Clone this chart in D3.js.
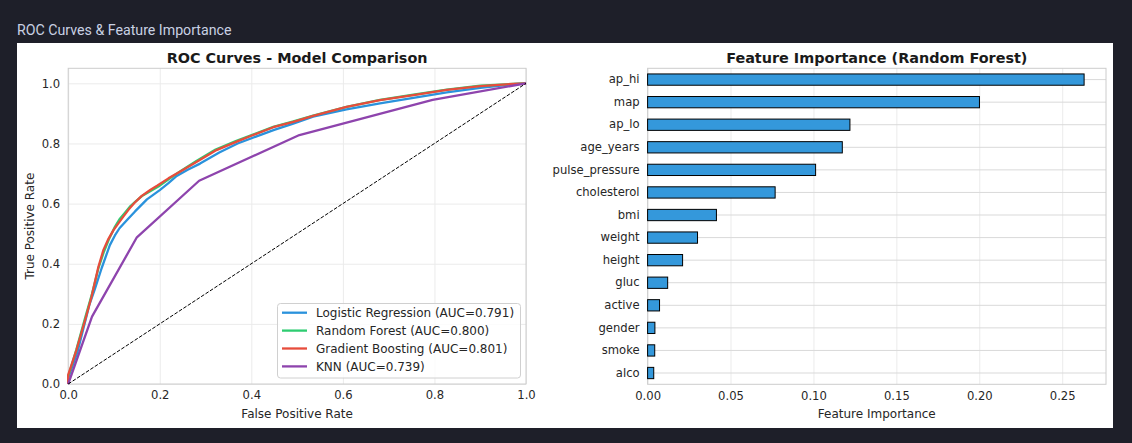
<!DOCTYPE html>
<html>
<head>
<meta charset="utf-8">
<script src="https://cdn.jsdelivr.net/npm/d3@7"></script>
<style>
  html, body { margin: 0; padding: 0; background: #1e1f29; }
  svg { display: block; }
  text { font-family: "DejaVu Sans", sans-serif; }
</style>
</head>
<body>
<svg id="chart" width="1132" height="443"></svg>
<script>
// ---------- DATA ----------
const lrFpr = [0, 0, 0.02, 0.046, 0.058, 0.073, 0.091, 0.102, 0.112, 0.130, 0.146, 0.172, 0.200, 0.219, 0.237, 0.260, 0.288, 0.330, 0.370, 0.410, 0.450, 0.490, 0.535, 0.608, 0.681, 0.754, 0.827, 0.900, 0.972, 1.0];
const lrTpr = [0, 0.02, 0.105, 0.262, 0.315, 0.385, 0.462, 0.494, 0.518, 0.548, 0.574, 0.614, 0.645, 0.668, 0.692, 0.712, 0.733, 0.770, 0.800, 0.823, 0.845, 0.865, 0.889, 0.913, 0.933, 0.952, 0.970, 0.985, 0.997, 1.0];

const rfFpr = [0, 0, 0.018, 0.037, 0.052, 0.066, 0.078, 0.090, 0.101, 0.112, 0.124, 0.136, 0.148, 0.163, 0.180, 0.197, 0.220, 0.245, 0.280, 0.322, 0.366, 0.405, 0.448, 0.490, 0.535, 0.608, 0.681, 0.754, 0.827, 0.900, 0.972, 1.0];
const rfTpr = [0, 0.025, 0.115, 0.220, 0.300, 0.385, 0.440, 0.485, 0.520, 0.548, 0.570, 0.592, 0.608, 0.627, 0.642, 0.657, 0.682, 0.708, 0.742, 0.780, 0.808, 0.830, 0.855, 0.873, 0.893, 0.922, 0.945, 0.962, 0.979, 0.992, 0.998, 1.0];

const gbFpr = [0, 0, 0.018, 0.037, 0.051, 0.066, 0.077, 0.087, 0.099, 0.110, 0.120, 0.132, 0.144, 0.160, 0.179, 0.195, 0.219, 0.244, 0.281, 0.324, 0.368, 0.404, 0.448, 0.492, 0.535, 0.608, 0.681, 0.754, 0.827, 0.900, 0.972, 1.0];
const gbTpr = [0, 0.030, 0.113, 0.213, 0.290, 0.390, 0.446, 0.480, 0.512, 0.535, 0.556, 0.580, 0.601, 0.625, 0.645, 0.660, 0.684, 0.706, 0.739, 0.778, 0.806, 0.828, 0.854, 0.872, 0.892, 0.922, 0.944, 0.961, 0.978, 0.991, 0.998, 1.0];

const knnFpr = [0, 0.052, 0.150, 0.286, 0.505, 0.796, 1.0];
const knnTpr = [0, 0.224, 0.488, 0.676, 0.828, 0.945, 1.0];

const modelNames = ["Logistic Regression (AUC=0.791)", "Random Forest (AUC=0.800)", "Gradient Boosting (AUC=0.801)", "KNN (AUC=0.739)"];
const modelColors = ["#2a92dc", "#2ecc71", "#e74c3c", "#8e44ad"];

const rocTicks = [0, 0.2, 0.4, 0.6, 0.8, 1.0];

const features = ["ap_hi", "map", "ap_lo", "age_years", "pulse_pressure", "cholesterol", "bmi", "weight", "height", "gluc", "active", "gender", "smoke", "alco"];
const importances = [0.2632, 0.2001, 0.1220, 0.1174, 0.1013, 0.0769, 0.0415, 0.0301, 0.0211, 0.0121, 0.0072, 0.0044, 0.0043, 0.0037];
const impTicks = [0, 0.05, 0.10, 0.15, 0.20, 0.25];

// ---------- LAYOUT ----------
const svg = d3.select("#chart");
svg.append("rect").attr("x", 0).attr("y", 0).attr("width", 1132).attr("height", 443).attr("fill", "#1e1f29");
svg.append("text").attr("x", 17).attr("y", 34.5)
  .style("font-family", "Roboto, 'Noto Sans', sans-serif").style("font-size", "14.2px")
  .attr("fill", "#c9d1e3").text("ROC Curves & Feature Importance");
svg.append("rect").attr("x", 17).attr("y", 43).attr("width", 1096).attr("height", 385).attr("fill", "#ffffff");

const gridColor = "#ebebeb";
const spineColor = "#cccccc";
const textColor = "#262626";
const tickFont = "11.6px";

// ---------- ROC PLOT ----------
const L = { left: 68.2, right: 526, top: 68.3, bottom: 384 };
const x1 = d3.scaleLinear().domain([0, 1]).range([L.left, L.right]);
const y1 = d3.scaleLinear().domain([0, 1.05]).range([L.bottom, L.top]);
const g1 = svg.append("g");

g1.append("g").attr("transform", `translate(0,${L.bottom})`)
  .call(d3.axisBottom(x1).tickValues(rocTicks).tickSize(-(L.bottom - L.top)).tickFormat(d3.format(".1f")))
  .call(g => {
    g.select(".domain").remove();
    g.selectAll("line").attr("stroke", gridColor);
    g.selectAll("text").attr("y", 7).attr("dy", "0.71em").style("font-size", tickFont).attr("fill", textColor).style("font-family", "DejaVu Sans");
  });
g1.append("g").attr("transform", `translate(${L.left},0)`)
  .call(d3.axisLeft(y1).tickValues(rocTicks).tickSize(-(L.right - L.left)).tickFormat(d3.format(".1f")))
  .call(g => {
    g.select(".domain").remove();
    g.selectAll("line").attr("stroke", gridColor);
    g.selectAll("text").attr("x", -8).style("font-size", tickFont).attr("fill", textColor).style("font-family", "DejaVu Sans");
  });
g1.append("rect").attr("x", L.left).attr("y", L.top).attr("width", L.right - L.left).attr("height", L.bottom - L.top)
  .attr("fill", "none").attr("stroke", spineColor).attr("stroke-width", 1);

const line = d3.line().x(d => x1(d[0])).y(d => y1(d[1]));
const series = [
  d3.zip(lrFpr, lrTpr),
  d3.zip(rfFpr, rfTpr),
  d3.zip(gbFpr, gbTpr),
  d3.zip(knnFpr, knnTpr)
];
series.forEach((s, i) => {
  g1.append("path").datum(s).attr("d", line).attr("fill", "none")
    .attr("stroke", modelColors[i]).attr("stroke-width", 2.3).attr("stroke-linejoin", "round");
});
g1.append("path").datum([[0, 0], [1, 1]]).attr("d", line).attr("fill", "none")
  .attr("stroke", "#000").attr("stroke-width", 1).attr("stroke-dasharray", "3.7,1.6");

g1.append("text").attr("x", (L.left + L.right) / 2).attr("y", 62.5).attr("text-anchor", "middle")
  .style("font-size", "14.4px").style("font-weight", "bold").attr("fill", "#1a1a1a").text("ROC Curves - Model Comparison");
g1.append("text").attr("x", (L.left + L.right) / 2).attr("y", 417.5).attr("text-anchor", "middle")
  .style("font-size", "12px").attr("fill", textColor).text("False Positive Rate");
g1.append("text").attr("transform", `translate(33.5,${(L.top + L.bottom) / 2}) rotate(-90)`).attr("text-anchor", "middle")
  .style("font-size", "12px").attr("fill", textColor).text("True Positive Rate");

// legend
const lg = g1.append("g");
lg.append("rect").attr("x", 277.5).attr("y", 303.5).attr("width", 243).attr("height", 74.5).attr("rx", 3)
  .attr("fill", "#ffffff").attr("fill-opacity", 0.8).attr("stroke", "#d0d0d0").attr("stroke-width", 1);
modelNames.forEach((name, i) => {
  const yy = 312.7 + i * 17.9;
  lg.append("line").attr("x1", 282).attr("x2", 307).attr("y1", yy).attr("y2", yy)
    .attr("stroke", modelColors[i]).attr("stroke-width", 2.3);
  lg.append("text").attr("x", 316).attr("y", yy).attr("dy", "0.36em")
    .style("font-size", "12px").attr("fill", textColor).text(name);
});

// ---------- FEATURE IMPORTANCE ----------
const R = { left: 647.6, right: 1106, top: 68.3, bottom: 384.3 };
const x2 = d3.scaleLinear().domain([0, 0.2764]).range([R.left, R.right]);
const y2 = d3.scaleBand().domain(features).range([R.top, R.bottom]).paddingInner(0.5).paddingOuter(0.25);
const g2 = svg.append("g");

g2.append("g").attr("transform", `translate(0,${R.bottom})`)
  .call(d3.axisBottom(x2).tickValues(impTicks).tickSize(-(R.bottom - R.top)).tickFormat(d3.format(".2f")))
  .call(g => {
    g.select(".domain").remove();
    g.selectAll("line").attr("stroke", gridColor);
    g.selectAll("text").attr("y", 7).attr("dy", "0.71em").style("font-size", tickFont).attr("fill", textColor).style("font-family", "DejaVu Sans");
  });
g2.append("g").attr("transform", `translate(${R.left},0)`)
  .call(d3.axisLeft(y2).tickSize(-(R.right - R.left)))
  .call(g => {
    g.select(".domain").remove();
    g.selectAll("line").attr("stroke", "#d9d9d9");
    g.selectAll("text").attr("x", -8).style("font-size", tickFont).attr("fill", textColor).style("font-family", "DejaVu Sans");
  });
g2.append("rect").attr("x", R.left).attr("y", R.top).attr("width", R.right - R.left).attr("height", R.bottom - R.top)
  .attr("fill", "none").attr("stroke", spineColor).attr("stroke-width", 1);

g2.selectAll("rect.bar").data(features).join("rect").attr("class", "bar")
  .attr("x", x2(0))
  .attr("y", d => y2(d))
  .attr("width", (d, i) => x2(importances[i]) - x2(0))
  .attr("height", y2.bandwidth())
  .attr("fill", "#3498db").attr("stroke", "#000").attr("stroke-width", 1);

g2.append("text").attr("x", (R.left + R.right) / 2).attr("y", 62.5).attr("text-anchor", "middle")
  .style("font-size", "14.4px").style("font-weight", "bold").attr("fill", "#1a1a1a").text("Feature Importance (Random Forest)");
g2.append("text").attr("x", (R.left + R.right) / 2).attr("y", 417.5).attr("text-anchor", "middle")
  .style("font-size", "12px").attr("fill", textColor).text("Feature Importance");
</script>
</body>
</html>
